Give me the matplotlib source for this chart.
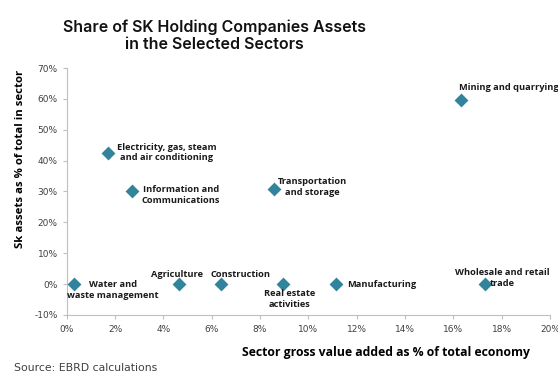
import matplotlib
matplotlib.use("Agg")
import matplotlib.pyplot as plt
from matplotlib.ticker import PercentFormatter

plt.rcParams["axes.unicode_minus"] = False

# sector share of gross value added (%) and SK holding companies' share of assets (%)
sectors = ["Mining and quarrying", "Electricity, gas, steam\nand air conditioning",
           "Information and\nCommunications", "Transportation\nand storage",
           "Water and\nwaste management", "Agriculture", "Construction",
           "Real estate\nactivities", "Manufacturing", "Wholesale and retail\ntrade"]
gva_share = [16.3, 1.7, 2.7, 8.6, 0.3, 4.65, 6.4, 8.95, 11.15, 17.3]
asset_share = [59.5, 42.6, 30.2, 30.9, 0, 0, 0, 0, 0, 0]

# label placement: offset in pixels from the marker, alignment
label_pos = [
    (-2, 13, "left", "center"),
    (9, 0, "left", "center"),
    (10, -4, "left", "center"),
    (3, 2, "left", "center"),
    (39, -6, "center", "center"),
    (-2, 10, "center", "center"),
    (19, 10, "center", "center"),
    (7, -15, "center", "center"),
    (11, 0, "left", "center"),
    (18, 6, "center", "center"),
]

fig = plt.figure(figsize=(5.58, 3.74), dpi=100)
ax = fig.add_axes([0.1195, 0.158, 0.866, 0.66])

ax.scatter(gva_share, asset_share, marker="D", s=50, color="#31849B", zorder=3,
           linewidths=0)

for name, x, y, (dx, dy, ha, va) in zip(sectors, gva_share, asset_share, label_pos):
    ax.annotate(name, xy=(x, y), xytext=(dx, dy), textcoords="offset pixels",
                ha=ha, va=va, multialignment="center", fontsize=6.7,
                fontweight="bold", family="Open Sans", color="#1a1a1a",
                linespacing=1.25, annotation_clip=False)

ax.set_xlim(0, 20)
ax.set_ylim(-10, 70)
ax.set_xticks(range(0, 21, 2))
ax.set_yticks(range(-10, 71, 10))
ax.xaxis.set_major_formatter(PercentFormatter(decimals=0))
ax.yaxis.set_major_formatter(PercentFormatter(decimals=0))
ax.tick_params(labelsize=6.5, colors="#BFBFBF", labelcolor="#404040",
               length=3, width=0.8)
ax.tick_params(axis="x", pad=4)

for side in ["top", "right"]:
    ax.spines[side].set_visible(False)
for side in ["left", "bottom"]:
    ax.spines[side].set_color("#BFBFBF")
    ax.spines[side].set_linewidth(0.8)

ax.set_xlabel("Sector gross value added as % of total economy", fontsize=8.8,
              fontweight="bold", family="Open Sans", labelpad=9, x=0.66)
ax.set_ylabel("Sk assets as % of total in sector", fontsize=8.2,
              fontweight="bold", family="Open Sans", labelpad=6, y=0.632)

fig.text(0.385, 0.904, "Share of SK Holding Companies Assets\nin the Selected Sectors",
         ha="center", va="center", fontsize=11.5, fontweight="semibold",
         family="Inter", linespacing=1.15, color="#111111")
fig.text(0.025, 0.016, "Source: EBRD calculations", fontsize=7.8, color="#404040",
         va="center")

fig.savefig("out.png", dpi=100)
